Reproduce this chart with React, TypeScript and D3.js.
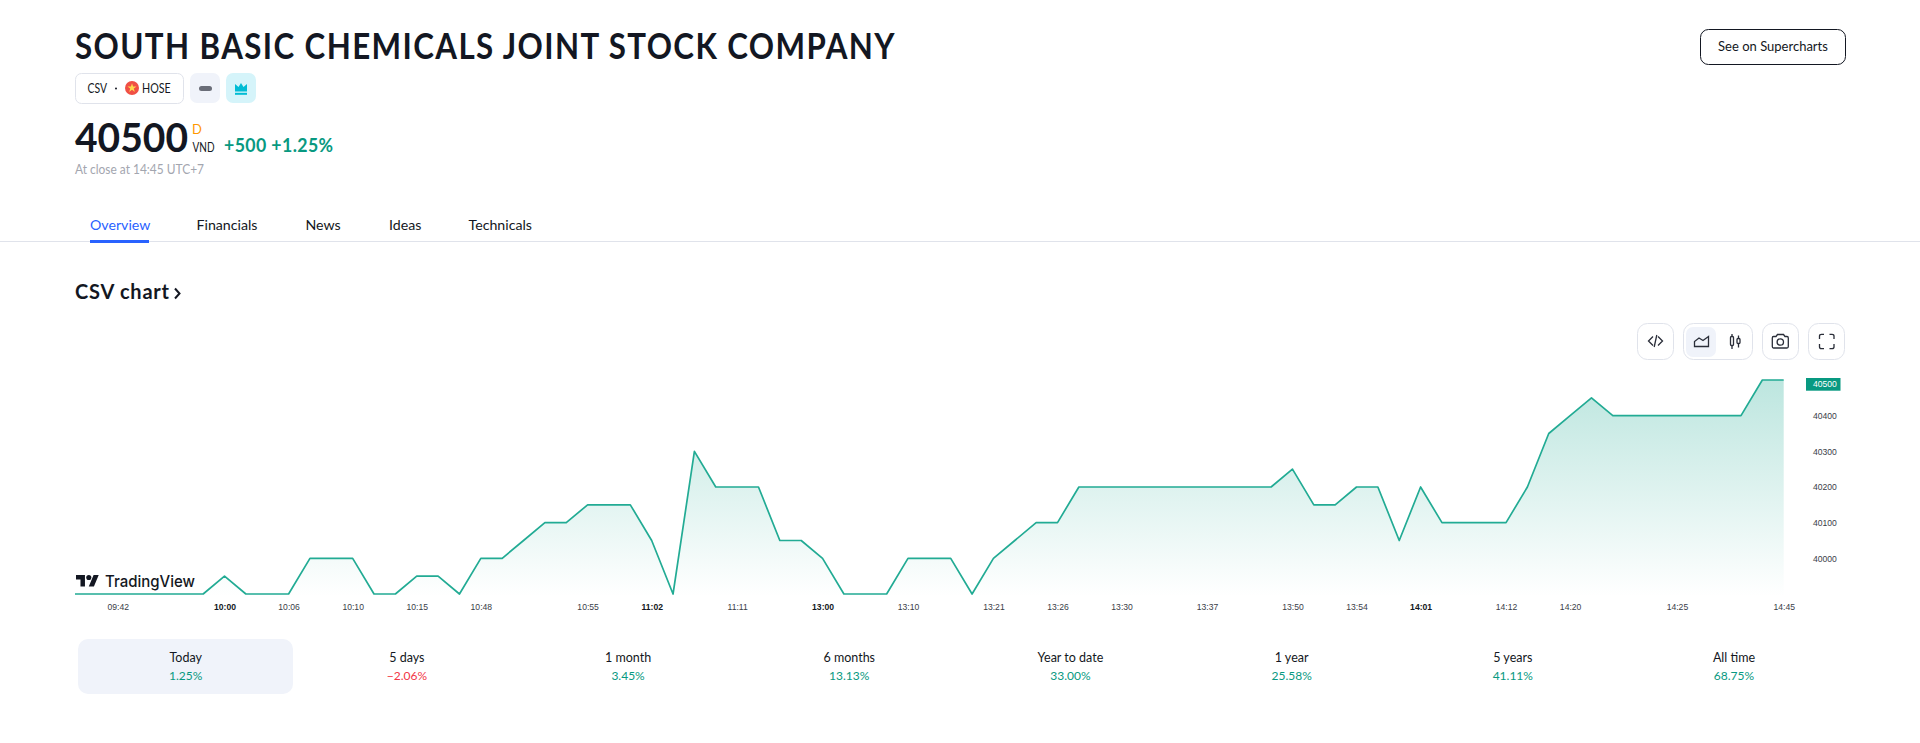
import React, { useEffect, useRef } from "react";
import * as d3 from "d3";

// Price per bar (VND)
const prices = [
  39900, 39900, 39900, 39900, 39900, 39900, 39900, 39950, 39900, 39900,
  39900, 40000, 40000, 40000, 39900, 39900, 39950, 39950, 39900, 40000,
  40000, 40050, 40100, 40100, 40150, 40150, 40150, 40050, 39900, 40300,
  40200, 40200, 40200, 40050, 40050, 40000, 39900, 39900, 39900, 40000,
  40000, 40000, 39900, 40000, 40050, 40100, 40100, 40200, 40200, 40200,
  40200, 40200, 40200, 40200, 40200, 40200, 40200, 40250, 40150, 40150,
  40200, 40200, 40050, 40200, 40100, 40100, 40100, 40100, 40200, 40350,
  40400, 40450, 40400, 40400, 40400, 40400, 40400, 40400, 40400, 40500,
  40500,
];
const tickBars = [2, 7, 10, 13, 16, 19, 24, 27, 31, 35, 39, 43, 46, 49, 53, 57, 60, 63, 67, 70, 75, 80];
const tickLabels = [
  "09:42", "10:00", "10:06", "10:10", "10:15", "10:48", "10:55", "11:02", "11:11", "13:00", "13:10",
  "13:21", "13:26", "13:30", "13:37", "13:50", "13:54", "14:01", "14:12", "14:20", "14:25", "14:45",
];
const boldLabels = ["10:00", "11:02", "13:00", "14:01"];
const priceTicks = [40000, 40100, 40200, 40300, 40400];
const lastPrice = 40500;

const tabs = ["Overview", "Financials", "News", "Ideas", "Technicals"];
const periods = ["Today", "5 days", "1 month", "6 months", "Year to date", "1 year", "5 years", "All time"];
const periodReturns = [1.25, -2.06, 3.45, 13.13, 33.0, 25.58, 41.11, 68.75];

const FONT = "Lato, 'Open Sans', sans-serif";
const AXIS_FONT = "'Liberation Sans', Arial, sans-serif";
const GREEN = "#089981";
const LINE = "#22ab94";
const RED = "#f23645";
const INK = "#131722";
const BORDER = "#e0e3eb";

const tabX = [90, 196.5, 305.5, 389, 468.5];

const x = d3.scaleLinear().domain([0, prices.length - 1]).range([75, 1783.7]);
const y = d3.scaleLinear().domain([39900, 40500]).range([594, 380]);
const periodX = d3.scalePoint<string>().domain(periods).range([185.7, 1734]);
const pct = d3.format(".2f");

const IconButton = ({ left, width = 36 }: { left: number; width?: number }) => (
  <rect x={left + 0.5} y={323.5} width={width} height={36} rx={10} fill="#fff" stroke={BORDER} />
);

const App = () => {
  const xAxisRef = useRef<SVGGElement>(null);
  const yAxisRef = useRef<SVGGElement>(null);

  const line = d3.line<number>().x((_, i) => x(i)).y((d) => y(d));
  const area = d3.area<number>().x((_, i) => x(i)).y0(596).y1((d) => y(d));

  useEffect(() => {
    const xAxis = d3
      .axisBottom(x)
      .tickValues(tickBars)
      .tickSize(0)
      .tickPadding(0)
      .tickFormat((_, i) => tickLabels[i]);
    const xg = d3.select(xAxisRef.current!).call(xAxis as any);
    xg.select(".domain").remove();
    xg.selectAll("text")
      .attr("font-family", AXIS_FONT)
      .attr("font-size", 8.6)
      .attr("y", 0)
      .attr("dy", "0.32em")
      .attr("font-weight", (_, i) => (boldLabels.includes(tickLabels[i]) ? 700 : 400))
      .attr("fill", (_, i) => (boldLabels.includes(tickLabels[i]) ? INK : "#3a3d47"));

    const yAxis = d3.axisRight(y).tickValues(priceTicks).tickSize(0).tickPadding(0).tickFormat(d3.format("d") as any);
    const yg = d3.select(yAxisRef.current!).call(yAxis as any);
    yg.select(".domain").remove();
    yg.selectAll("text")
      .attr("font-family", AXIS_FONT)
      .attr("font-size", 8.6)
      .attr("fill", "#3a3d47");
  }, []);

  return (
    <svg
      width={1920}
      height={743}
      style={{ position: "absolute", left: 0, top: 0, display: "block", background: "#fff" }}
      fontFamily={FONT}
    >
      <defs>
        <linearGradient id="areaFill" x1="0" y1="0" x2="0" y2="1">
          <stop offset="0%" stopColor={LINE} stopOpacity={0.3} />
          <stop offset="100%" stopColor={LINE} stopOpacity={0} />
        </linearGradient>
      </defs>

      {/* header */}
      <text x={75} y={59} fontSize={36} fontWeight={700} fill={INK} letterSpacing={1.6} textLength={821} lengthAdjust="spacingAndGlyphs">
        SOUTH BASIC CHEMICALS JOINT STOCK COMPANY
      </text>
      <rect x={75.5} y={73.5} width={108} height={30} rx={6} fill="#fff" stroke={BORDER} />
      <text x={87.5} y={92.5} fontSize={13} fill={INK} textLength={19.5} lengthAdjust="spacingAndGlyphs">CSV</text>
      <circle cx={116} cy={88.5} r={1} fill={INK} />
      <circle cx={132} cy={88} r={7} fill="#f04f45" />
      <path d={d3.symbol(d3.symbolStar, 26)() as string} transform="translate(132,88)" fill="#ffd84d" />
      <text x={142} y={92.5} fontSize={13} fill={INK} textLength={28.7} lengthAdjust="spacingAndGlyphs">HOSE</text>
      <rect x={190} y={73} width={30} height={30} rx={7} fill="#f0f3fa" />
      <rect x={199} y={86} width={13} height={5} rx={2.5} fill="#6a6d78" />
      <rect x={226} y={73} width={30} height={30} rx={7} fill="#d5f4fa" />
      <path d="M235 91.5 L235 84 L238.5 87 L241 83 L243.5 87 L247 84 L247 91.5 Z" fill="#00bcd4" />
      <rect x={235} y={92.8} width={12} height={2} fill="#00bcd4" />

      <text x={75} y={152} fontSize={40} fontWeight={700} fill={INK} textLength={113} lengthAdjust="spacingAndGlyphs">40500</text>
      <text x={192} y={134} fontSize={13} fill="#ff9800">D</text>
      <text x={192.5} y={152} fontSize={13} fill={INK} textLength={22} lengthAdjust="spacingAndGlyphs">VND</text>
      <text x={224} y={152} fontSize={18} fontWeight={700} fill={GREEN} letterSpacing={0.4} textLength={109.5} lengthAdjust="spacingAndGlyphs">+500 +1.25%</text>
      <text x={75} y={173.5} fontSize={13} fill="#a3a6af" textLength={129} lengthAdjust="spacingAndGlyphs">At close at 14:45 UTC+7</text>

      <rect x={1700.5} y={29.5} width={145} height={35} rx={8} fill="#fff" stroke={INK} />
      <text x={1773} y={51} fontSize={13} textAnchor="middle" fill={INK}>See on Supercharts</text>

      {/* tabs */}
      {tabs.map((t, i) => (
        <text key={t} x={tabX[i]} y={230} fontSize={14.2} fill={i === 0 ? "#2962ff" : INK}>{t}</text>
      ))}
      <rect x={0} y={241} width={1920} height={1} fill={BORDER} />
      <rect x={90} y={240} width={59} height={3} fill="#2962ff" />

      <text x={75} y={299} fontSize={20} fontWeight={700} fill={INK} textLength={94} lengthAdjust="spacing">CSV chart</text>
      <path d="M175 288.5 L179.5 293.5 L175 298.5" fill="none" stroke={INK} strokeWidth={2} />

      {/* toolbar */}
      <IconButton left={1637} />
      <IconButton left={1683} width={69} />
      <rect x={1686} y={327} width={30} height={30} rx={7} fill="#f0f3fa" />
      <IconButton left={1762} />
      <IconButton left={1808} />
      <g fill="none" stroke="#2a2e39" strokeWidth={1.3}>
        <path d="M1653 336.5 L1648.5 341 L1653 345.5 M1658 336.5 L1662.5 341 L1658 345.5 M1656.8 335 L1654.2 347" />
        <path d="M1694.5 346.5 L1694.5 341.5 L1699 338 L1703 340.5 L1708.5 336.5 L1708.5 346.5 Z" />
        <path d="M1732 334 V349 M1738.5 335.5 V347.5" />
        <rect x={1730.5} y={336.5} width={3} height={9} rx={1} fill="#fff" />
        <rect x={1737} y={338.5} width={3} height={5} rx={1} fill="#fff" />
        <path d="M1773.5 336.5 H1776 L1777.5 334.5 H1783.5 L1785 336.5 H1787 Q1788.3 336.5 1788.3 338 V346.5 Q1788.3 348 1787 348 H1773.5 Q1772.3 348 1772.3 346.5 V338 Q1772.3 336.5 1773.5 336.5 Z" />
        <circle cx={1780.3} cy={342} r={3.2} />
        <path d="M1819.5 339 V336 Q1819.5 334.3 1821.5 334.3 H1824 M1829.5 334.3 H1832 Q1834 334.3 1834 336 V339 M1834 344 V347 Q1834 348.7 1832 348.7 H1829.5 M1824 348.7 H1821.5 Q1819.5 348.7 1819.5 347 V344" />
      </g>

      {/* chart */}
      <path d={area(prices) as string} fill="url(#areaFill)" />
      <path d={line(prices) as string} fill="none" stroke={LINE} strokeWidth={1.7} strokeLinejoin="round" />
      <g ref={xAxisRef} transform="translate(0,607)" />
      <g ref={yAxisRef} transform="translate(1813,0)" />
      <rect x={1806} y={y(lastPrice) - 2} width={34.5} height={12.7} fill={GREEN} />
      <text x={1813} y={y(lastPrice) + 4.3} dy="0.32em" fontFamily={AXIS_FONT} fontSize={8.6} fill="#fff">
        {lastPrice}
      </text>

      {/* TradingView logo */}
      <g transform="translate(76,572.4) scale(0.64)" fill={INK}>
        <path d="M14 22H7V11H0V4h14v18zM28 22h-8l7.5-18h8L28 22z" />
        <circle cx={20} cy={8} r={4} />
      </g>
      <text x={105} y={586.7} fontSize={16.5} fontWeight={500} fontFamily="Inter, sans-serif" fill={INK} textLength={90} lengthAdjust="spacingAndGlyphs">
        TradingView
      </text>

      {/* period returns */}
      <rect x={78} y={639} width={215} height={55} rx={10} fill="#f0f3fa" />
      {periods.map((p, i) => (
        <g key={p} textAnchor="middle">
          <text x={periodX(p)} y={662} fontSize={12.5} fill={INK}>{p}</text>
          <text x={periodX(p)} y={680} fontSize={12} fill={periodReturns[i] < 0 ? RED : GREEN}>
            {periodReturns[i] < 0 ? "\u2212" + pct(-periodReturns[i]) : pct(periodReturns[i])}%
          </text>
        </g>
      ))}
    </svg>
  );
};

export default App;
